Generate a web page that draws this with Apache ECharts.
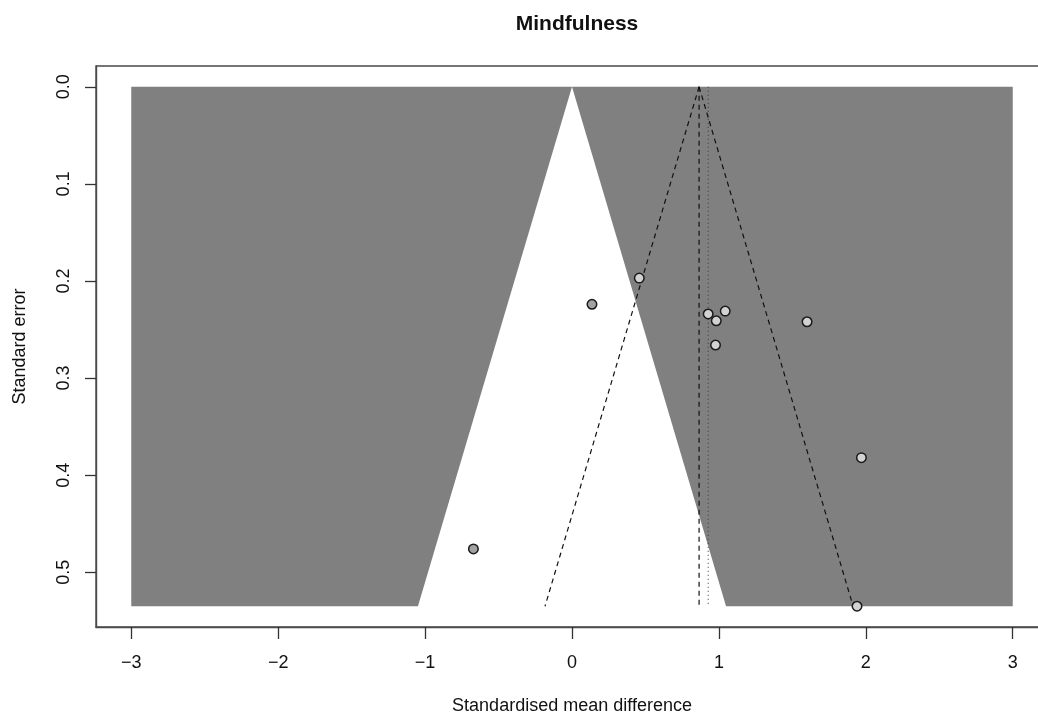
<!DOCTYPE html>
<html>
<head>
<meta charset="utf-8">
<title>Mindfulness</title>
<script src="https://cdn.jsdelivr.net/npm/echarts@6/dist/echarts.min.js"></script>
<style>
  html, body { margin: 0; padding: 0; background: #ffffff; }
  #chart { width: 1038px; height: 717px; }
</style>
</head>
<body>
<div id="chart"></div>
<script>
// Study effect sizes (standardised mean difference) and their standard errors
const studySMD = [0.458, 0.136, 0.927, 0.982, 1.043, 0.977, 1.600, 1.970, 1.940, -0.671];
const studySE  = [0.197, 0.224, 0.234, 0.241, 0.231, 0.266, 0.242, 0.382, 0.535, 0.476];

// Pooled estimates
const fixedEffect = 0.865;
const randomEffect = 0.927;

// Axis ticks
const xTicks = [-3, -2, -1, 0, 1, 2, 3];
const yTicks = [0, 0.1, 0.2, 0.3, 0.4, 0.5];

// Contour settings: significance threshold and shaded x range
const z95 = 1.96;
const shadeXMin = -3;
const shadeXMax = 3;

const seMax = Math.max(...studySE);

// Shaded region outside the 95% contour around zero
const contourPolys = [
  [[shadeXMin, 0], [0, 0], [-z95 * seMax, seMax], [shadeXMin, seMax]],
  [[0, 0], [shadeXMax, 0], [shadeXMax, seMax], [z95 * seMax, seMax]]
];

const FONT = '"Liberation Sans", Arial, Helvetica, sans-serif';
const INK = '#111111';

const points = studySMD.map((x, i) => {
  const inside = Math.abs(x / studySE[i]) < z95;
  return {
    value: [x, studySE[i]],
    itemStyle: { color: inside ? '#a2a2a2' : '#d2d2d2' }
  };
});

const chart = echarts.init(document.getElementById('chart'), null, { renderer: 'canvas' });

const option = {
  backgroundColor: '#ffffff',
  animation: false,
  title: {
    text: 'Mindfulness',
    left: 572,
    top: 9,
    textAlign: 'center',
    textStyle: { fontFamily: FONT, fontSize: 21, fontWeight: 'bold', color: INK }
  },
  grid: {
    left: 96,
    top: 66,
    width: 952,
    height: 561,
    outerBoundsMode: 'none',
    containLabel: false,
    show: true,
    borderColor: '#4a4a4a',
    borderWidth: 1.4,
    backgroundColor: 'transparent'
  },
  xAxis: {
    type: 'value',
    min: -3.24,
    max: 3.24,
    name: 'Standardised mean difference',
    nameLocation: 'middle',
    nameGap: 70,
    nameTextStyle: { fontFamily: FONT, fontSize: 18, color: INK },
    axisLine: { show: true, onZero: false, lineStyle: { color: '#4a4a4a', width: 1.4 } },
    axisTick: { show: true, length: 12, customValues: xTicks, lineStyle: { color: '#333', width: 1.3 } },
    axisLabel: {
      customValues: xTicks,
      margin: 27,
      fontFamily: FONT, fontSize: 18, color: INK,
      formatter: v => String(v).replace('-', '\u2212')
    },
    splitLine: { show: false }
  },
  yAxis: {
    type: 'value',
    inverse: true,
    min: -0.0214,
    max: 0.5564,
    name: 'Standard error',
    nameLocation: 'middle',
    nameGap: 67,
    nameRotate: 90,
    nameTextStyle: { fontFamily: FONT, fontSize: 18, color: INK },
    axisLine: { show: true, onZero: false, lineStyle: { color: '#4a4a4a', width: 1.4 } },
    axisTick: { show: true, length: 11, customValues: yTicks, lineStyle: { color: '#333', width: 1.3 } },
    axisLabel: {
      customValues: yTicks,
      rotate: 90,
      margin: 23,
      fontFamily: FONT, fontSize: 18, color: INK,
      formatter: v => Number(v).toFixed(1)
    },
    splitLine: { show: false }
  },
  series: [
    {
      type: 'custom',
      name: 'contour',
      silent: true,
      z: 1,
      data: contourPolys.map((p, i) => [i, 0]),
      renderItem: (params, api) => {
        const poly = contourPolys[params.dataIndex];
        return {
          type: 'polygon',
          shape: { points: poly.map(p => api.coord(p)) },
          style: { fill: '#808080', stroke: null }
        };
      }
    },
    {
      type: 'line',
      name: 'funnel left',
      z: 3,
      silent: true,
      showSymbol: false,
      data: [[fixedEffect, 0], [fixedEffect - z95 * seMax, seMax]],
      lineStyle: { color: INK, width: 1.2, type: [5, 4] }
    },
    {
      type: 'line',
      name: 'funnel right',
      z: 3,
      silent: true,
      showSymbol: false,
      data: [[fixedEffect, 0], [fixedEffect + z95 * seMax, seMax]],
      lineStyle: { color: INK, width: 1.2, type: [5, 4] }
    },
    {
      type: 'line',
      name: 'fixed effect',
      z: 3,
      silent: true,
      showSymbol: false,
      data: [[fixedEffect, 0], [fixedEffect, seMax]],
      lineStyle: { color: INK, width: 1.2, type: [5, 4] }
    },
    {
      type: 'line',
      name: 'random effects',
      z: 3,
      silent: true,
      showSymbol: false,
      data: [[randomEffect, 0], [randomEffect, seMax]],
      lineStyle: { color: '#333', width: 1, type: [1, 3] }
    },
    {
      type: 'scatter',
      name: 'studies',
      z: 5,
      symbol: 'circle',
      symbolSize: 9.5,
      data: points,
      itemStyle: { borderColor: '#1a1a1a', borderWidth: 1.5, opacity: 1 }
    }
  ]
};

chart.setOption(option);
</script>
</body>
</html>
